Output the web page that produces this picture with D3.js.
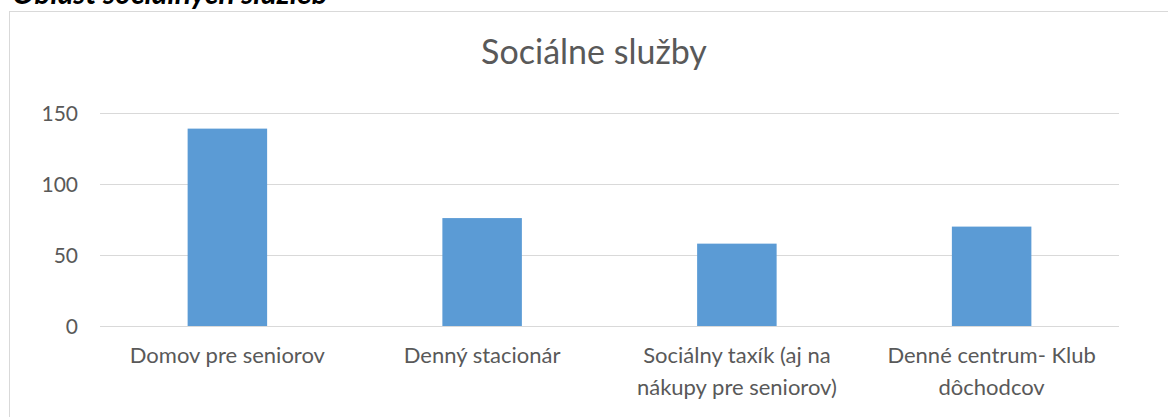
<!DOCTYPE html>
<html><head><meta charset="utf-8">
<script src="https://cdn.jsdelivr.net/npm/d3@7"></script>
<style>body{margin:0;background:#fff}svg{display:block}</style>
</head><body>
<script>
const categories = [["Domov pre seniorov"], ["Denný stacionár"], ["Sociálny taxík (aj na", "nákupy pre seniorov)"], ["Denné centrum- Klub", "dôchodcov"]];
const values = [139, 76, 58, 70];
const yTicks = [0, 50, 100, 150];
const title = "Sociálne služby";
const heading = "Oblasť sociálnych služieb";

const W = 1168, H = 417;
const font = "Lato, 'Open Sans', sans-serif";
const svg = d3.select("body").append("svg").attr("width", W).attr("height", H);

svg.append("text").attr("x", 12).attr("y", 4).attr("font-family", font)
  .attr("font-size", 30).attr("font-weight", "bold").attr("font-style", "italic")
  .attr("fill", "#000").text(heading);

svg.append("rect").attr("x", 9.5).attr("y", 11.5).attr("width", 1170).attr("height", 430)
  .attr("fill", "#fff").attr("stroke", "#d9d9d9").attr("stroke-width", 1);

const x = d3.scaleBand().domain(d3.range(categories.length)).range([100, 1119]).padding(0);
const y = d3.scaleLinear().domain([0, 150]).range([326, 113]);

svg.append("g").selectAll("line").data(yTicks).join("line")
  .attr("x1", 100).attr("x2", 1119).attr("y1", d => Math.round(y(d)) + 0.5).attr("y2", d => Math.round(y(d)) + 0.5)
  .attr("stroke", "#d9d9d9").attr("stroke-width", 1);

svg.append("g").selectAll("text").data(yTicks).join("text")
  .attr("x", 78).attr("y", d => y(d)).attr("dy", "0.36em").attr("text-anchor", "end")
  .attr("font-family", font).attr("font-size", 21).attr("fill", "#595959").text(d => d);

const bw = 79.5;
svg.append("g").selectAll("rect").data(values).join("rect")
  .attr("x", (d, i) => x(i) + x.bandwidth() / 2 - bw / 2).attr("width", bw)
  .attr("y", d => y(d)).attr("height", d => y(0) - y(d)).attr("fill", "#5b9bd5");

const lab = svg.append("g").selectAll("text").data(categories).join("text")
  .attr("x", (d, i) => x(i) + x.bandwidth() / 2).attr("y", 363).attr("text-anchor", "middle")
  .attr("font-family", font).attr("font-size", 22).attr("fill", "#595959");
lab.selectAll("tspan").data(d => d).join("tspan")
  .attr("x", function () { return this.parentNode.getAttribute("x"); })
  .attr("dy", (d, i) => i === 0 ? 0 : 32).text(d => d);

svg.append("text").attr("x", 594).attr("y", 64).attr("text-anchor", "middle")
  .attr("font-family", font).attr("font-size", 34).attr("fill", "#595959").text(title);
</script>
</body></html>
